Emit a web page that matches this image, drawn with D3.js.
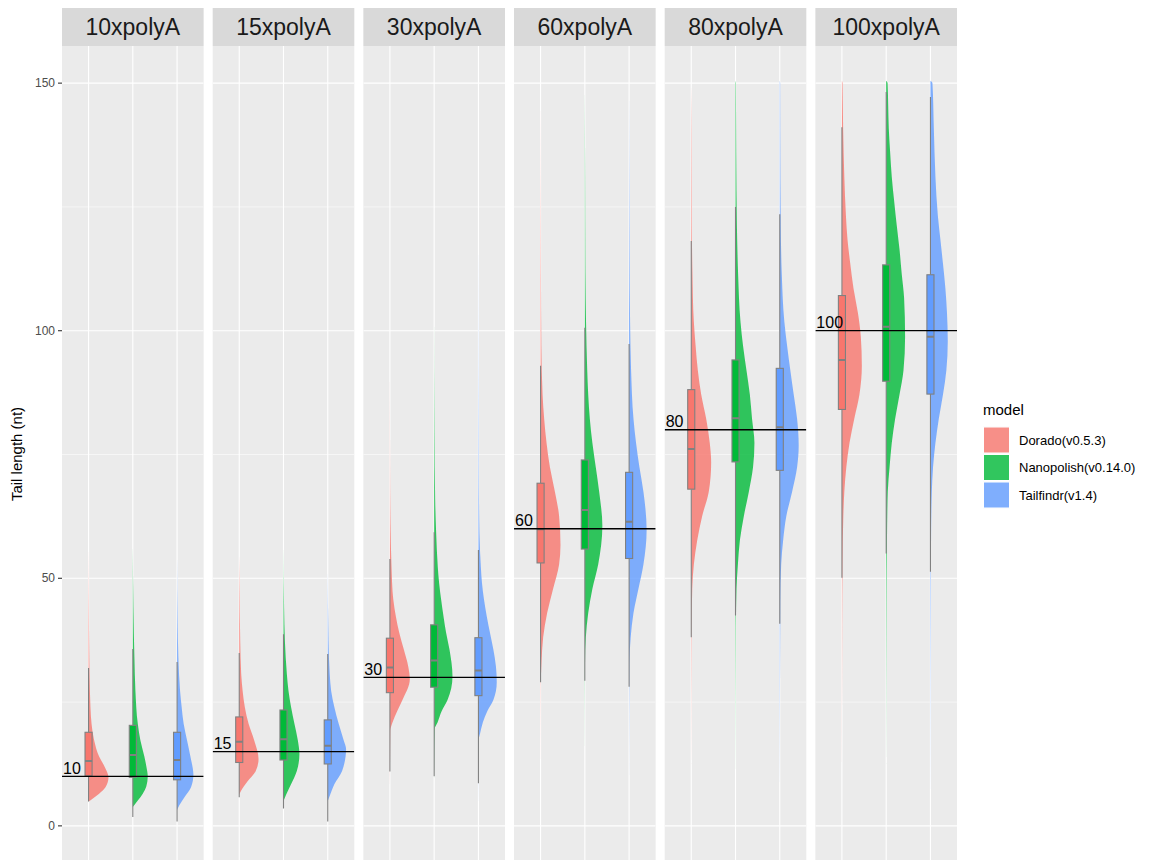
<!DOCTYPE html>
<html>
<head>
<meta charset="utf-8">
<script src="https://cdn.jsdelivr.net/npm/d3@7"></script>
<style>
  body { margin: 0; background: #fff; }
  text { font-family: "Liberation Sans", Arial, sans-serif; }
</style>
</head>
<body>
<div id="chart"></div>
<script>
// facets and the expected tail length drawn as a reference line
const facets = ['10xpolyA', '15xpolyA', '30xpolyA', '60xpolyA', '80xpolyA', '100xpolyA'];
const expected = [10, 15, 30, 60, 80, 100];
const models = ['Dorado(v0.5.3)', 'Nanopolish(v0.14.0)', 'Tailfindr(v1.4)'];
const yTicks = [0, 50, 100, 150];
const yMinor = [25, 75, 125];

// box stats per facet: [lower whisker, q1, median, q3, upper whisker]
const boxDorado = [
  [4.9, 10.1, 13.1, 18.9, 31.9],
  [5.8, 12.8, 17.0, 22.0, 34.9],
  [11.0, 26.9, 32.0, 37.9, 53.9],
  [29.0, 53.1, 59.9, 69.2, 92.9],
  [38.1, 68.0, 76.1, 88.1, 118.1],
  [50.1, 84.1, 94.1, 107.1, 141.1]
];
const boxNanopolish = [
  [1.8, 9.8, 14.3, 20.3, 35.7],
  [3.5, 13.3, 17.5, 23.4, 38.7],
  [10.0, 28.0, 33.4, 40.6, 59.3],
  [29.3, 55.9, 63.8, 73.9, 100.6],
  [42.5, 73.5, 82.3, 94.1, 125.0],
  [55.0, 89.8, 100.8, 113.3, 148.2]
];
const boxTailfindr = [
  [0.9, 9.3, 13.3, 18.9, 33.1],
  [0.9, 12.5, 16.2, 21.4, 34.7],
  [8.6, 26.3, 31.4, 38.0, 55.7],
  [28.1, 54.0, 61.4, 71.4, 97.3],
  [40.8, 71.8, 80.5, 92.4, 123.5],
  [51.3, 87.2, 98.8, 111.3, 147.2]
];

// half-violin profiles: [tail length, relative density]
const densDorado = [
  [[4.9,0],[5.5,0.2],[6.5,0.53],[7.8,0.85],[9.8,1.0],[12,0.8],[14,0.53],[17.3,0.28],[20.6,0.15],[27,0.07],[35,0.035],[45,0.015],[57,0]],
  [[6.3,0],[7.0,0.08],[9.0,0.42],[11.1,0.83],[13.5,0.97],[17.3,0.75],[20.6,0.47],[24,0.28],[27.3,0.17],[30.6,0.1],[37.4,0.05],[47.5,0.02],[55,0]],
  [[6,0],[19.2,0.02],[20.9,0.13],[23.2,0.37],[25.4,0.63],[29.6,1.0],[32.2,0.92],[35.6,0.7],[39,0.47],[42.3,0.3],[45.7,0.17],[52.4,0.08],[59.2,0.04],[72.6,0.01],[100,0]],
  [[5.8,0],[28,0.01],[33.3,0.05],[38.1,0.13],[43,0.33],[47.9,0.63],[52.8,0.93],[56.7,1.0],[62.6,0.93],[67.5,0.72],[72.4,0.47],[77.3,0.3],[82.2,0.18],[87.1,0.1],[96.9,0.04],[111.5,0.02],[150,0]],
  [[6.8,0],[40,0.02],[47.9,0.05],[52.8,0.13],[57.7,0.3],[62.6,0.55],[67.5,0.88],[73.4,1.0],[77.3,0.93],[82.2,0.75],[87.1,0.5],[92,0.33],[96.9,0.22],[101.8,0.13],[111.5,0.06],[121.3,0.03],[141,0.015],[150,0]],
  [[4.6,0],[40,0.015],[52.8,0.03],[62.6,0.07],[67.5,0.12],[72.4,0.22],[77.3,0.38],[82.2,0.62],[87.1,0.88],[92.9,1.0],[98.8,0.95],[103.7,0.8],[108.6,0.58],[113.5,0.42],[118.4,0.28],[123.3,0.2],[131.1,0.12],[140.9,0.06],[150,0.03],[150.5,0]]
];
const densNanopolish = [
  [[3.8,0],[5.1,0.25],[6.5,0.5],[8,0.68],[10,0.75],[12,0.68],[14,0.58],[17.3,0.38],[20.6,0.25],[27.3,0.13],[34,0.08],[44,0.03],[57,0]],
  [[5.0,0],[6.3,0.13],[8.4,0.38],[11.1,0.67],[14.5,0.8],[17.3,0.72],[20.6,0.55],[24,0.38],[27.3,0.25],[30.6,0.17],[37.4,0.07],[44,0.03],[57,0]],
  [[8,0],[19.6,0.03],[20.9,0.17],[23.2,0.38],[25.4,0.67],[30.2,0.92],[35.6,0.77],[39,0.6],[42.3,0.47],[45.7,0.35],[49,0.25],[52.4,0.18],[59.2,0.1],[65.9,0.05],[79.4,0.02],[105,0]],
  [[8,0],[33,0.01],[38.1,0.05],[43,0.17],[47.9,0.38],[52.8,0.67],[60.6,0.88],[67.5,0.72],[72.4,0.55],[77.3,0.38],[82.2,0.25],[87.1,0.17],[92,0.12],[101.8,0.06],[111.5,0.03],[131,0.015],[150,0]],
  [[5,0],[40,0.02],[47.9,0.05],[52.8,0.12],[57.7,0.22],[62.6,0.42],[67.5,0.67],[72.4,0.88],[77.3,0.95],[82.2,0.83],[87.1,0.72],[92,0.55],[96.9,0.38],[101.8,0.25],[111.5,0.13],[121.3,0.07],[135.9,0.035],[150,0.02],[150.5,0]],
  [[5.5,0],[45,0.02],[57.7,0.04],[67.5,0.08],[72.4,0.17],[77.3,0.28],[82.2,0.45],[87.1,0.67],[92,0.87],[98.8,0.95],[106.6,0.9],[111.5,0.78],[116.4,0.67],[121.3,0.53],[126.2,0.4],[131.1,0.28],[136,0.2],[140.9,0.13],[145.7,0.1],[150,0.07],[150.5,0]]
];
const densTailfindr = [
  [[3.2,0],[4.2,0.12],[5.8,0.37],[7.8,0.7],[10.3,0.82],[14,0.67],[17.3,0.5],[20.6,0.33],[24,0.23],[27.3,0.15],[34,0.065],[40.8,0.03],[55,0]],
  [[5.0,0],[6.3,0.12],[8.4,0.33],[11.1,0.72],[15.5,0.92],[17.3,0.8],[20.6,0.55],[24,0.33],[27.3,0.17],[30.6,0.1],[37.4,0.04],[52,0]],
  [[2,0],[17.5,0.02],[18.6,0.08],[20.9,0.22],[23.2,0.45],[25.4,0.75],[29,0.92],[32.2,0.88],[35.6,0.75],[39,0.58],[42.3,0.42],[45.7,0.28],[49,0.18],[52.4,0.12],[59.2,0.05],[72.6,0.02],[125,0]],
  [[5.8,0],[33,0.02],[38.1,0.08],[43,0.22],[47.9,0.47],[52.8,0.72],[59.7,0.88],[67.5,0.72],[72.4,0.52],[77.3,0.35],[82.2,0.22],[92,0.1],[101.8,0.05],[121,0.02],[150,0]],
  [[3,0],[45,0.03],[52.8,0.07],[57.7,0.17],[62.6,0.33],[67.5,0.62],[72.4,0.87],[76.8,0.95],[82.2,0.87],[87.1,0.7],[92,0.53],[96.9,0.37],[101.8,0.23],[111.5,0.1],[121.3,0.05],[140.8,0.025],[150,0.02],[150.5,0]],
  [[1,0],[45,0.02],[57.7,0.03],[67.5,0.07],[72.4,0.13],[77.3,0.25],[82.2,0.42],[87.1,0.63],[92,0.8],[97.8,0.87],[103.7,0.83],[108.6,0.75],[113.5,0.63],[118.4,0.5],[123.3,0.37],[131.1,0.25],[140.9,0.17],[150,0.1],[150.5,0]]
];

const boxes = [boxDorado, boxNanopolish, boxTailfindr];
const dens = [densDorado, densNanopolish, densTailfindr];

const width = 1155;
const height = 860;

const svg = d3.select('#chart')
  .append('svg')
  .attr('width', width)
  .attr('height', height);

const fx = d3.scaleBand()
  .domain(facets)
  .range([62, 957])
  .paddingInner(0.06);

const y = d3.scaleLinear()
  .domain([-7.5, 157.5])
  .range([863, 46]);

const x = d3.scalePoint()
  .domain(models)
  .range([0, fx.bandwidth()])
  .padding(0.6);

const color = d3.scaleOrdinal()
  .domain(models)
  .range(['#F8766D', '#00BA38', '#619CFF']);

const halfW = 0.45 * x.step();
const boxHalf = 0.08 * x.step();
const boxStroke = '#808080';

facets.forEach((f, i) => {
  const g = svg.append('g').attr('transform', `translate(${fx(f)},0)`);
  const pw = fx.bandwidth();

  g.append('clipPath').attr('id', 'clip' + i)
    .append('rect').attr('x', 0).attr('y', 46).attr('width', pw).attr('height', 817);

  // strip
  g.append('rect')
    .attr('x', 0).attr('y', 8)
    .attr('width', pw).attr('height', 38)
    .attr('fill', '#D9D9D9');
  g.append('text')
    .attr('x', pw / 2).attr('y', 35)
    .attr('text-anchor', 'middle')
    .attr('font-size', 23)
    .attr('fill', '#1A1A1A')
    .text(f);

  // panel
  g.append('rect')
    .attr('x', 0).attr('y', 46)
    .attr('width', pw).attr('height', 817)
    .attr('fill', '#EBEBEB');

  const p = g.append('g').attr('clip-path', `url(#clip${i})`);

  p.selectAll('.minor')
    .data(yMinor).enter().append('line')
    .attr('x1', 0).attr('x2', pw)
    .attr('y1', d => y(d)).attr('y2', d => y(d))
    .attr('stroke', '#fff').attr('stroke-width', 0.55);
  p.selectAll('.major')
    .data(yTicks).enter().append('line')
    .attr('x1', 0).attr('x2', pw)
    .attr('y1', d => y(d)).attr('y2', d => y(d))
    .attr('stroke', '#fff').attr('stroke-width', 1.1);
  p.selectAll('.vgrid')
    .data(models).enter().append('line')
    .attr('x1', d => x(d)).attr('x2', d => x(d))
    .attr('y1', 46).attr('y2', 863)
    .attr('stroke', '#fff').attr('stroke-width', 1.1);

  models.forEach((m, j) => {
    const cx = x(m);
    const area = d3.area()
      .y(d => y(d[0]))
      .x0(cx)
      .x1(d => cx + d[1] * halfW)
      .curve(d3.curveMonotoneY);

    p.append('path')
      .attr('d', area(dens[j][i]))
      .attr('fill', color(m))
      .attr('fill-opacity', 0.8);

    const [lo, q1, med, q3, hi] = boxes[j][i];
    p.append('line')
      .attr('x1', cx).attr('x2', cx)
      .attr('y1', y(hi)).attr('y2', y(q3))
      .attr('stroke', boxStroke).attr('stroke-width', 1.1);
    p.append('line')
      .attr('x1', cx).attr('x2', cx)
      .attr('y1', y(q1)).attr('y2', y(lo))
      .attr('stroke', boxStroke).attr('stroke-width', 1.1);
    p.append('rect')
      .attr('x', cx - boxHalf).attr('width', boxHalf * 2)
      .attr('y', y(q3)).attr('height', y(q1) - y(q3))
      .attr('fill', color(m))
      .attr('stroke', boxStroke).attr('stroke-width', 1.1);
    p.append('line')
      .attr('x1', cx - boxHalf).attr('x2', cx + boxHalf)
      .attr('y1', y(med)).attr('y2', y(med))
      .attr('stroke', boxStroke).attr('stroke-width', 2);
  });

  // expected length
  p.append('line')
    .attr('x1', 0).attr('x2', pw)
    .attr('y1', y(expected[i])).attr('y2', y(expected[i]))
    .attr('stroke', '#000').attr('stroke-width', 1.3);
  p.append('text')
    .attr('x', 1).attr('y', y(expected[i]) - 2.5)
    .attr('font-size', 16)
    .attr('fill', '#000')
    .text(expected[i]);
});

// y axis
const ya = svg.append('g');
ya.selectAll('line')
  .data(yTicks).enter().append('line')
  .attr('x1', 58).attr('x2', 62)
  .attr('y1', d => y(d)).attr('y2', d => y(d))
  .attr('stroke', '#333').attr('stroke-width', 1.1);
ya.selectAll('text')
  .data(yTicks).enter().append('text')
  .attr('x', 55).attr('y', d => y(d) + 4)
  .attr('text-anchor', 'end')
  .attr('font-size', 12)
  .attr('fill', '#4D4D4D')
  .text(d => d);

svg.append('text')
  .attr('transform', 'translate(22,454) rotate(-90)')
  .attr('text-anchor', 'middle')
  .attr('font-size', 15)
  .attr('fill', '#000')
  .text('Tail length (nt)');

// legend
const lg = svg.append('g').attr('transform', 'translate(983,0)');
lg.append('text')
  .attr('x', 0).attr('y', 415)
  .attr('font-size', 15)
  .attr('fill', '#000')
  .text('model');
models.forEach((m, j) => {
  const top = 426.5 + j * 27.5;
  lg.append('rect')
    .attr('x', 0).attr('y', top)
    .attr('width', 27).attr('height', 27)
    .attr('fill', '#F2F2F2');
  lg.append('rect')
    .attr('x', 0.5).attr('y', top + 0.5)
    .attr('width', 26).attr('height', 26)
    .attr('fill', color(m)).attr('fill-opacity', 0.8)
    .attr('stroke', '#fff').attr('stroke-width', 1);
  lg.append('text')
    .attr('x', 36).attr('y', top + 13.5)
    .attr('dy', '0.35em')
    .attr('font-size', 13)
    .attr('fill', '#000')
    .text(m);
});
</script>
</body>
</html>
